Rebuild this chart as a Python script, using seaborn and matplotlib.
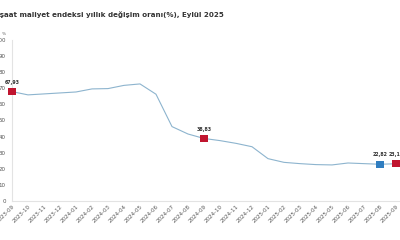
import matplotlib
matplotlib.use("Agg")
import matplotlib.pyplot as plt
import seaborn as sns
import pandas as pd

months = ["2023-09", "2023-10", "2023-11", "2023-12", "2024-01", "2024-02", "2024-03",
          "2024-04", "2024-05", "2024-06", "2024-07", "2024-08", "2024-09", "2024-10",
          "2024-11", "2024-12", "2025-01", "2025-02", "2025-03", "2025-04", "2025-05",
          "2025-06", "2025-07", "2025-08", "2025-09"]
values = [67.93, 65.9, 66.5, 67.1, 67.7, 69.6, 69.8, 71.8, 72.7, 66.3, 46.2, 41.6, 38.83,
          37.5, 35.8, 33.7, 26.3, 24.0, 23.2, 22.6, 22.4, 23.6, 23.2, 22.82, 23.13]
highlight_months = ["2023-09", "2024-09", "2025-08", "2025-09"]
highlight_labels = ["67,93", "38,83", "22,82", "23,13"]
highlight_colors = ["#C0152F", "#C0152F", "#2F7DC0", "#C0152F"]
yticks = list(range(0, 101, 10))
title = "İnşaat maliyet endeksi yıllık değişim oranı(%), Eylül 2025"

sns.set_theme(style="white")
plt.rcParams["font.family"] = ["DejaVu Sans"]

df = pd.DataFrame({"month": months, "value": values, "idx": range(len(months))})

fig = plt.figure(figsize=(4, 2.4), dpi=100)
ax = fig.add_axes([0.03, 0.1625, 0.98, 0.671])

sns.lineplot(data=df, x="idx", y="value", ax=ax, color="#8DB4CE", linewidth=0.8)

hdf = df[df["month"].isin(highlight_months)].copy()
hdf["color"] = [highlight_colors[highlight_months.index(m)] for m in hdf["month"]]
sc = sns.scatterplot(data=hdf, x="idx", y="value", hue="month",
                     palette=dict(zip(hdf["month"], hdf["color"])),
                     marker="s", s=26, edgecolor="none", legend=False, ax=ax, zorder=5)
for coll in ax.collections:
    coll.set_clip_on(False)

for m, lab in zip(highlight_months, highlight_labels):
    r = df[df["month"] == m].iloc[0]
    ax.annotate(lab, xy=(r["idx"], r["value"]), xytext=(0, 5), textcoords="offset points",
                ha="center", va="bottom", fontsize=3.4, fontweight="bold", color="#333333",
                annotation_clip=False)

ax.set_xlim(0, 24.5)
ax.set_ylim(0, 100)
ax.set_xticks(df["idx"])
ax.set_xticklabels(months, rotation=45, ha="right", rotation_mode="anchor",
                   fontsize=4.0, color="#555555")
ax.set_yticks(yticks)
ax.set_yticklabels([str(v) for v in yticks], fontsize=4.0, color="#555555")
ax.tick_params(axis="both", length=0)
ax.tick_params(axis="y", pad=4.5)
ax.tick_params(axis="x", pad=2)
ax.set_xlabel("")
ax.set_ylabel("")
for s in ["top", "right"]:
    ax.spines[s].set_visible(False)
for s in ["left", "bottom"]:
    ax.spines[s].set_color("#E3E3E3")
    ax.spines[s].set_linewidth(0.8)

fig.text(-0.02, 0.942, title, fontsize=5.1, fontweight="bold", color="#333333",
         ha="left", va="center")
fig.text(0.004, 0.858, "%", fontsize=3.2, color="#666666", ha="left", va="center")

fig.savefig("out.png", dpi=100)
